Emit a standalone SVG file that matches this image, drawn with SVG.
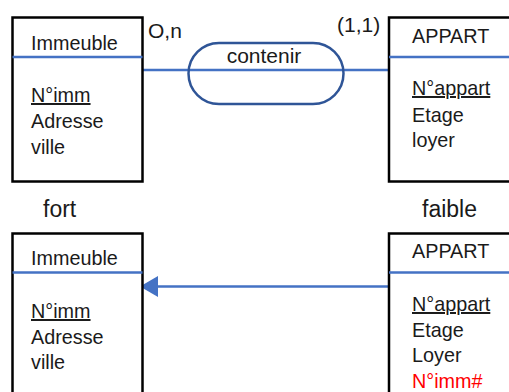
<svg xmlns="http://www.w3.org/2000/svg" width="509" height="392" viewBox="0 0 509 392">
<defs>
<style>
text{font-family:"Liberation Sans",Arial,sans-serif;font-size:19.8px;fill:#1a1a1a}
.big{font-size:21px}
.lbl{font-size:23px}
.box{fill:#fff;stroke:#000;stroke-width:2.5}
.div{stroke:#4472C4;stroke-width:2.5}
.conn{stroke:#4472C4;stroke-width:2.5;fill:none}
.u{text-decoration:underline}
.red{fill:#ff0000}
</style>
</defs>
<rect width="509" height="392" fill="#fff"/>
<g id="connectors">
<line class="conn" x1="143" y1="70" x2="389" y2="70"/>
<line class="conn" x1="389" y1="286.5" x2="158" y2="286.5"/>
<path d="M140,286.5 L158,276 L158,297 Z" fill="#4472C4"/>
</g>
<g id="rel-contenir">
<rect x="188.5" y="43" width="155" height="61" rx="30.5" fill="none" stroke="#2F5597" stroke-width="2.5"/>
<text x="264" y="63" text-anchor="middle" class="big">contenir</text>
</g>
<g id="card1"><text x="148" y="38" class="big">O,n</text></g>
<g id="card2"><text x="337" y="32" class="big">(1,1)</text></g>
<g id="immeuble1">
<rect class="box" x="12.5" y="17.5" width="130" height="164"/>
<line class="div" x1="12.5" y1="57" x2="142.5" y2="57"/>
<text x="31" y="50">Immeuble</text>
<text x="31" y="102" class="u">N°imm</text>
<text x="31" y="128">Adresse</text>
<text x="31" y="154">ville</text>
</g>
<g id="appart1">
<rect class="box" x="389" y="17.5" width="130" height="164"/>
<line class="div" x1="389" y1="57" x2="509" y2="57"/>
<text x="412" y="43">APPART</text>
<text x="412" y="95" class="u">N°appart</text>
<text x="412" y="122">Etage</text>
<text x="412" y="147">loyer</text>
</g>
<g id="label-fort"><text x="43" y="217" class="lbl">fort</text></g>
<g id="label-faible"><text x="422" y="217" class="lbl">faible</text></g>
<g id="immeuble2">
<rect class="box" x="12.5" y="233.5" width="130" height="170"/>
<line class="div" x1="12.5" y1="272.5" x2="142.5" y2="272.5"/>
<text x="31" y="265">Immeuble</text>
<text x="31" y="318" class="u">N°imm</text>
<text x="31" y="344">Adresse</text>
<text x="31" y="369">ville</text>
</g>
<g id="appart2">
<rect class="box" x="389" y="233.5" width="130" height="170"/>
<line class="div" x1="389" y1="272.5" x2="509" y2="272.5"/>
<text x="412" y="258">APPART</text>
<text x="412" y="311" class="u">N°appart</text>
<text x="412" y="337">Etage</text>
<text x="412" y="362">Loyer</text>
<text x="412" y="388" class="red">N°imm#</text>
</g>
</svg>
